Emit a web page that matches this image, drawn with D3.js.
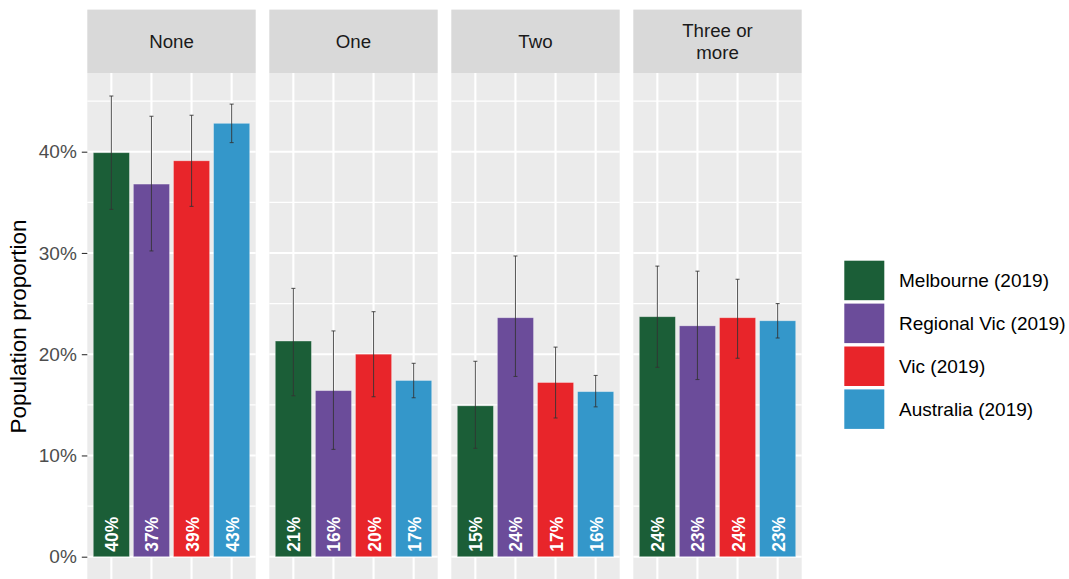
<!DOCTYPE html>
<html>
<head>
<meta charset="utf-8">
<script src="https://cdn.jsdelivr.net/npm/d3@7"></script>
<style>
  html, body { margin: 0; padding: 0; background: #fff; }
  svg { display: block; font-family: "Liberation Sans", Arial, sans-serif; }
</style>
</head>
<body>
<svg id="chart" width="1069" height="579"></svg>
<script>
// Number of items (facet), per region (series)
const facets = ["None", "One", "Two", "Three or more"];
const facetLabels = [["None"], ["One"], ["Two"], ["Three or", "more"]];
const series = ["Melbourne (2019)", "Regional Vic (2019)", "Vic (2019)", "Australia (2019)"];
const seriesColors = ["#1b5e37", "#6b4c9a", "#e8252a", "#3497ca"];

// Proportions (%) by facet, in series order
const values = [
  [39.9, 36.8, 39.1, 42.8],
  [21.3, 16.4, 20.0, 17.4],
  [14.9, 23.6, 17.2, 16.3],
  [23.7, 22.8, 23.6, 23.3]
];
const lower = [
  [34.3, 30.2, 34.6, 40.9],
  [15.9, 10.6, 15.8, 15.7],
  [10.7, 17.8, 13.7, 14.8],
  [18.7, 17.5, 19.6, 21.6]
];
const upper = [
  [45.5, 43.5, 43.6, 44.7],
  [26.5, 22.3, 24.2, 19.1],
  [19.3, 29.7, 20.7, 17.9],
  [28.7, 28.2, 27.4, 25.0]
];
const yTicks = [0, 10, 20, 30, 40];
const yMinor = [5, 15, 25, 35, 45];

const svg = d3.select("#chart");

const panelTop = 73, panelBottom = 580, stripTop = 9.6;
const fx = d3.scaleBand().domain(facets).range([87.3, 801.7]).paddingInner(0.0747).paddingOuter(0);
const x = d3.scalePoint().domain(series).range([0, fx.bandwidth()]).padding(0.6);
const barW = x.step() * 0.9;
const y = d3.scaleLinear().domain([0, 40]).range([556.7, 151.7]);
const color = d3.scaleOrdinal().domain(series).range(seriesColors);

const rows = [];
facets.forEach((f, i) => series.forEach((s, j) => rows.push({
  facet: f, series: s, value: values[i][j], lo: lower[i][j], hi: upper[i][j]
})));

facets.forEach((f, i) => {
  const g = svg.append("g").attr("transform", `translate(${fx(f)},0)`);
  const w = fx.bandwidth();

  // strip
  g.append("rect").attr("x", 0).attr("y", stripTop).attr("width", w)
    .attr("height", panelTop - stripTop).attr("fill", "#d9d9d9");
  const lines = facetLabels[i];
  const mid = (stripTop + panelTop) / 2;
  lines.forEach((t, k) => {
    g.append("text").attr("x", w / 2)
      .attr("y", mid + (k - (lines.length - 1) / 2) * 21.5)
      .attr("dy", "0.35em").attr("text-anchor", "middle")
      .attr("font-size", 18.7).attr("fill", "#1a1a1a").text(t);
  });

  // panel background
  g.append("rect").attr("x", 0).attr("y", panelTop).attr("width", w)
    .attr("height", panelBottom - panelTop).attr("fill", "#ebebeb");

  // grid
  g.selectAll(".minor").data(yMinor).join("line")
    .attr("x1", 0).attr("x2", w).attr("y1", d => y(d)).attr("y2", d => y(d))
    .attr("stroke", "#fff").attr("stroke-width", 1.1);
  g.selectAll(".major").data(yTicks).join("line")
    .attr("x1", 0).attr("x2", w).attr("y1", d => y(d)).attr("y2", d => y(d))
    .attr("stroke", "#fff").attr("stroke-width", 2.1);
  g.selectAll(".vmajor").data(series).join("line")
    .attr("x1", d => x(d)).attr("x2", d => x(d)).attr("y1", panelTop).attr("y2", panelBottom)
    .attr("stroke", "#fff").attr("stroke-width", 2.1);

  const data = rows.filter(r => r.facet === f);

  // bars
  g.selectAll(".bar").data(data).join("rect")
    .attr("x", d => x(d.series) - barW / 2).attr("width", barW)
    .attr("y", d => y(d.value)).attr("height", d => y(0) - y(d.value))
    .attr("fill", d => color(d.series))
    .attr("stroke", "rgba(255,255,255,0.35)").attr("stroke-width", 0.8);

  // error bars
  const eb = g.selectAll(".err").data(data).join("g").attr("stroke", "#333").attr("stroke-opacity", 0.8);
  eb.append("line").attr("x1", d => x(d.series)).attr("x2", d => x(d.series))
    .attr("y1", d => y(d.lo)).attr("y2", d => y(d.hi)).attr("stroke-width", 1.1);
  eb.append("line").attr("x1", d => x(d.series) - 2).attr("x2", d => x(d.series) + 2)
    .attr("y1", d => y(d.hi)).attr("y2", d => y(d.hi)).attr("stroke-width", 1.1);
  eb.append("line").attr("x1", d => x(d.series) - 2).attr("x2", d => x(d.series) + 2)
    .attr("y1", d => y(d.lo)).attr("y2", d => y(d.lo)).attr("stroke-width", 1.1);

  // value labels
  g.selectAll(".lab").data(data).join("text")
    .attr("transform", d => `translate(${x(d.series) + 7},${y(0) - 5}) rotate(-90)`)
    .attr("text-anchor", "start").attr("font-size", 17.5).attr("font-weight", "bold")
    .attr("fill", "#fff").text(d => Math.round(d.value) + "%");
});

// y axis
const yAxis = svg.append("g").attr("transform", `translate(${fx(facets[0])},0)`)
  .call(d3.axisLeft(y).tickValues(yTicks).tickFormat(d => d + "%").tickSize(5.5).tickPadding(5));
yAxis.select(".domain").remove();
yAxis.selectAll(".tick line").attr("stroke", "#333").attr("stroke-width", 1.1);
yAxis.selectAll(".tick text").attr("fill", "#4d4d4d").attr("font-size", 19)
  .attr("font-family", "Liberation Sans, Arial, sans-serif");

svg.append("text").attr("transform", `translate(26,${(220 + 433) / 2}) rotate(-90)`)
  .attr("text-anchor", "middle").attr("font-size", 22.5).attr("fill", "#000")
  .text("Population proportion");

// legend
const legend = svg.append("g").attr("transform", "translate(844.3,260.7)");
const items = legend.selectAll("g").data(series).join("g")
  .attr("transform", (d, i) => `translate(0,${i * 42.9})`);
items.append("rect").attr("width", 40).attr("height", 39.5).attr("fill", d => color(d));
items.append("text").attr("x", 54.7).attr("y", 19.8).attr("dy", "0.35em")
  .attr("font-size", 19).attr("fill", "#000").text(d => d);
</script>
</body>
</html>
